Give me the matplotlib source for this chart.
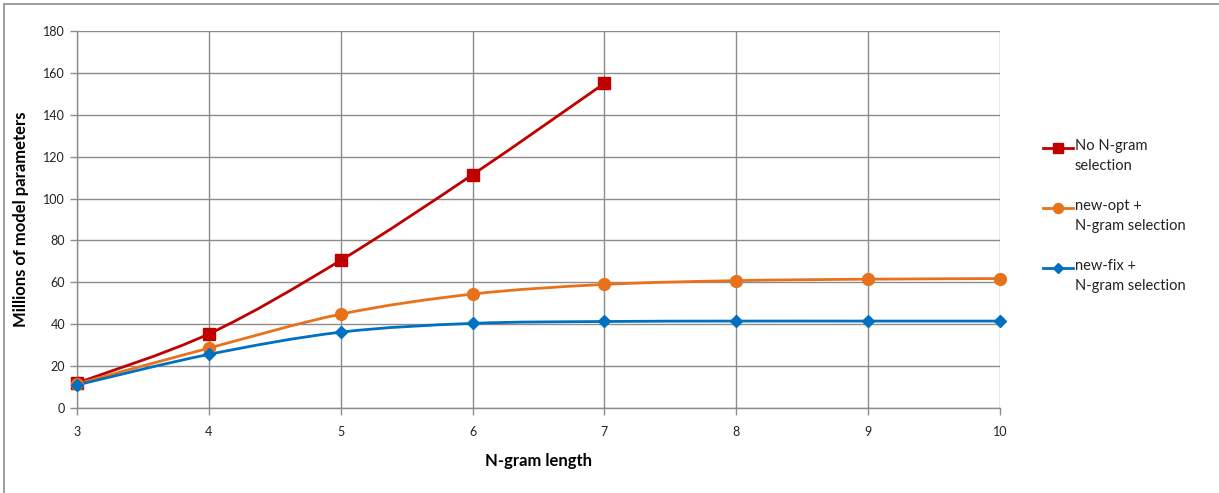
import numpy as np
import matplotlib.pyplot as plt
from matplotlib.path import Path
from matplotlib.patches import PathPatch, Rectangle
from matplotlib.lines import Line2D

# =============================
# DATA
# =============================
ngram_len = [3, 4, 5, 6, 7, 8, 9, 10]
no_selection = [11.9, 35.4, 70.5, 111.4, 155.0]          # only up to 7
new_opt = [11.5, 28.6, 44.8, 54.4, 59.0, 60.8, 61.5, 61.8]
new_fix = [11.0, 25.6, 36.2, 40.4, 41.3, 41.5, 41.5, 41.5]

labels = ["No N-gram\nselection", "new-opt +\nN-gram selection", "new-fix +\nN-gram selection"]
colors = ["#C00000", "#E8721C", "#0070C0"]
markers = ["s", "o", "D"]
msizes = [8, 8.5, 6]

plt.rcParams['font.family'] = ['Lato', 'DejaVu Sans']

W, H = 1219, 493


def smooth_path(x, y):
    # Excel-style smoothed line: cubic Bezier segments through each point
    x = np.asarray(x, float)
    y = np.asarray(y, float)
    n = len(x)
    verts = [(x[0], y[0])]
    codes = [Path.MOVETO]
    for i in range(n - 1):
        x0, y0 = (x[i - 1], y[i - 1]) if i > 0 else (x[i], y[i])
        x3, y3 = (x[i + 2], y[i + 2]) if i + 2 < n else (x[i + 1], y[i + 1])
        c1 = (x[i] + (x[i + 1] - x0) / 6, y[i] + (y[i + 1] - y0) / 6)
        c2 = (x[i + 1] - (x3 - x[i]) / 6, y[i + 1] - (y3 - y[i]) / 6)
        verts += [c1, c2, (x[i + 1], y[i + 1])]
        codes += [Path.CURVE4] * 3
    return Path(verts, codes)


# =============================
# PLOT
# =============================
fig = plt.figure(figsize=(W / 100, H / 100), dpi=100)
ax = fig.add_axes([77 / W, 1 - 408 / H, (1000 - 77) / W, (408 - 31) / H])

# outer chart border
fig.patches.append(Rectangle((4 / W, -0.1), 1.2, 1 - 4 / H + 0.1,
                             transform=fig.transFigure, fill=False,
                             edgecolor="#8c8c8c", linewidth=1.2))

series = [(ngram_len[:len(no_selection)], no_selection),
          (ngram_len, new_opt),
          (ngram_len, new_fix)]

for (xs, ys), col, mk, ms in zip(series, colors, markers, msizes):
    ax.add_patch(PathPatch(smooth_path(xs, ys), facecolor="none",
                           edgecolor=col, linewidth=2.0, zorder=3))
    ax.plot(xs, ys, linestyle="none", marker=mk, markersize=ms,
            color=col, zorder=4, clip_on=False)

ax.set_xlim(3, 10)
ax.set_ylim(0, 180)
ax.set_xticks(range(3, 11))
ax.set_yticks(range(0, 181, 20))
ax.grid(True, color="#8c8c8c", linewidth=1.0)
ax.set_axisbelow(True)
for s in ["top", "right"]:
    ax.spines[s].set_visible(False)
for s in ["left", "bottom"]:
    ax.spines[s].set_color("#8c8c8c")
    ax.spines[s].set_linewidth(1.0)
ax.tick_params(axis="both", colors="#8c8c8c", labelcolor="#222222",
               labelsize=9, length=5, width=1.0)
ax.tick_params(axis="x", pad=8)

ax.set_xlabel("N-gram length", fontsize=12, fontweight="bold", labelpad=11)
ax.set_ylabel("Millions of model parameters", fontsize=12, fontweight="bold", labelpad=10)

# legend, Excel style: handle level with the first text line
for i, (lab, col, mk, ms) in enumerate(zip(labels, colors, markers, msizes)):
    yy = 1 - (148 + 60 * i) / H
    fig.add_artist(Line2D([1043 / W, 1073 / W], [yy, yy], color=col, linewidth=2.0,
                          transform=fig.transFigure))
    fig.add_artist(Line2D([1058 / W], [yy], color=col, linestyle="none",
                          marker=mk, markersize=ms * 0.85, transform=fig.transFigure))
    fig.text(1075 / W, yy + 9 / H, lab, fontsize=10.5, color="#222222",
             va="top", ha="left", linespacing=1.55)

plt.savefig("out.png", dpi=100)
